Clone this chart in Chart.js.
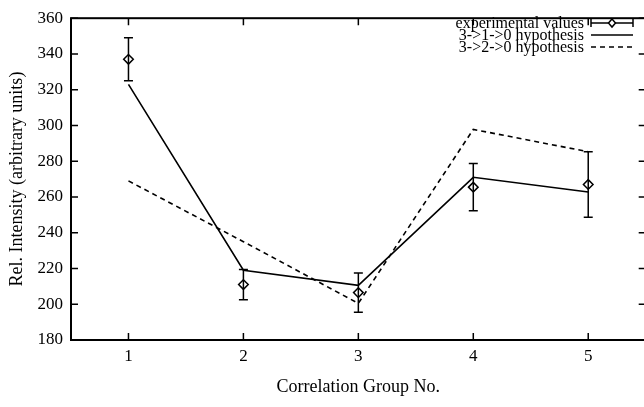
<!DOCTYPE html>
<html><head><meta charset="utf-8">
<script src="https://cdn.jsdelivr.net/npm/chart.js@4/dist/chart.umd.min.js"></script>
<style>
html,body{margin:0;padding:0;background:#fff;overflow:hidden;width:644px;height:407px;}
#wrap{position:absolute;left:0;top:0;width:652px;height:407px;}
</style></head><body>
<div id="wrap"><canvas id="c" width="652" height="407"></canvas></div>
<script>
// ---- data ----
const groups = [1, 2, 3, 4, 5];
const experimental = [337, 211, 206.5, 265.5, 267];
const experimentalErr = [12, 8.5, 11, 13.2, 18.3];
const hyp310 = [323, 219, 210.6, 271, 262.8];
const hyp320 = [269, 235, 200.5, 297.8, 285.3];
const xTicks = [1, 2, 3, 4, 5];
const yTicks = [180, 200, 220, 240, 260, 280, 300, 320, 340, 360];
const legendLabels = ['experimental values', '3->1->0 hypothesis', '3->2->0 hypothesis'];
const xTitle = 'Correlation Group No.';
const yTitle = 'Rel. Intensity (arbitrary units)';

const SERIF = '"Liberation Serif", "Times New Roman", serif';
const pts = arr => groups.map((g, i) => ({x: g, y: arr[i]}));

const framePlugin = {
  id: 'frame',
  beforeDatasetsDraw(chart) {
    const {ctx, scales: {x, y}} = chart;
    ctx.save();
    ctx.strokeStyle = '#000';
    ctx.lineWidth = 1.5;
    groups.forEach((g, i) => {
      const px = x.getPixelForValue(g);
      const yt = y.getPixelForValue(experimental[i] + experimentalErr[i]);
      const yb = y.getPixelForValue(experimental[i] - experimentalErr[i]);
      ctx.beginPath();
      ctx.moveTo(px, yt); ctx.lineTo(px, yb);
      ctx.moveTo(px - 4.5, yt); ctx.lineTo(px + 4.5, yt);
      ctx.moveTo(px - 4.5, yb); ctx.lineTo(px + 4.5, yb);
      ctx.stroke();
    });
    ctx.restore();
  },
  afterDraw(chart) {
    const {ctx, chartArea: a, scales: {x, y}} = chart;
    ctx.save();
    ctx.strokeStyle = '#000';
    ctx.lineWidth = 2;
    ctx.strokeRect(a.left, a.top, a.right - a.left, a.bottom - a.top);
    ctx.lineWidth = 1.5;
    const tl = 7;
    ctx.beginPath();
    xTicks.forEach(v => {
      const px = x.getPixelForValue(v);
      ctx.moveTo(px, a.bottom); ctx.lineTo(px, a.bottom - tl);
      ctx.moveTo(px, a.top); ctx.lineTo(px, a.top + tl);
    });
    yTicks.forEach(v => {
      const py = y.getPixelForValue(v);
      ctx.moveTo(a.left, py); ctx.lineTo(a.left + tl, py);
      ctx.moveTo(a.right, py); ctx.lineTo(a.right - tl, py);
    });
    ctx.stroke();

    // legend
    const rows = [23, 35, 47];
    const tx = 584, s0 = 591, s1 = 633;
    ctx.font = '16px ' + SERIF;
    ctx.fillStyle = '#000';
    ctx.textAlign = 'right';
    ctx.textBaseline = 'middle';
    legendLabels.forEach((t, i) => ctx.fillText(t, tx, rows[i] + 1));
    ctx.lineWidth = 1.5;
    // errorbar sample
    ctx.beginPath();
    ctx.moveTo(s0, rows[0]); ctx.lineTo(s1, rows[0]);
    ctx.moveTo(s0, rows[0] - 4); ctx.lineTo(s0, rows[0] + 4);
    ctx.moveTo(s1, rows[0] - 4); ctx.lineTo(s1, rows[0] + 4);
    ctx.stroke();
    const cx = (s0 + s1) / 2;
    ctx.beginPath();
    ctx.moveTo(cx, rows[0] - 4); ctx.lineTo(cx + 3.5, rows[0]);
    ctx.lineTo(cx, rows[0] + 4); ctx.lineTo(cx - 3.5, rows[0]); ctx.closePath();
    ctx.fillStyle = '#fff'; ctx.fill(); ctx.stroke();
    // solid
    ctx.beginPath(); ctx.moveTo(s0, rows[1]); ctx.lineTo(s1, rows[1]); ctx.stroke();
    // dashed
    ctx.setLineDash([5, 4]);
    ctx.beginPath(); ctx.moveTo(s0, rows[2]); ctx.lineTo(s1, rows[2]); ctx.stroke();
    ctx.restore();
  }
};

new Chart(document.getElementById('c'), {
  type: 'line',
  data: {
    datasets: [
      {
        label: legendLabels[0], data: pts(experimental), showLine: false,
        pointStyle: 'rectRot', pointRadius: 4.8, pointBorderWidth: 1.5,
        pointBorderColor: '#000', pointBackgroundColor: 'rgba(255,255,255,0)', borderColor: '#000'
      },
      {
        label: legendLabels[1], data: pts(hyp310), borderColor: '#000', borderWidth: 1.6,
        pointRadius: 0, tension: 0, fill: false
      },
      {
        label: legendLabels[2], data: pts(hyp320), borderColor: '#000', borderWidth: 1.6,
        borderDash: [5, 4], pointRadius: 0, tension: 0, fill: false
      }
    ]
  },
  options: {
    responsive: false, animation: false, devicePixelRatio: 1,
    layout: {padding: {top: 6, right: 4, left: 0, bottom: 0}},
    plugins: {legend: {display: false}, tooltip: {enabled: false}},
    scales: {
      x: {
        type: 'linear', min: 0.5, max: 5.5,
        afterBuildTicks: s => { s.ticks = xTicks.map(v => ({value: v})); },
        afterFit: s => { s.height = 67; },
        grid: {display: false, drawTicks: false}, border: {display: false},
        ticks: {color: '#000', font: {family: SERIF, size: 17}, padding: 6, maxRotation: 0},
        title: {display: true, text: xTitle, color: '#000', font: {family: SERIF, size: 18}, padding: {top: 0, bottom: 9}}
      },
      y: {
        type: 'linear', min: 180, max: 360,
        afterBuildTicks: s => { s.ticks = yTicks.map(v => ({value: v})); },
        afterFit: s => { s.width = 71; },
        grid: {display: false, drawTicks: false}, border: {display: false},
        ticks: {color: '#000', font: {family: SERIF, size: 17}, padding: 8},
        title: {display: true, text: yTitle, color: '#000', font: {family: SERIF, size: 18}, padding: {top: 6, bottom: 0}}
      }
    }
  },
  plugins: [framePlugin]
});
</script>
</body></html>
